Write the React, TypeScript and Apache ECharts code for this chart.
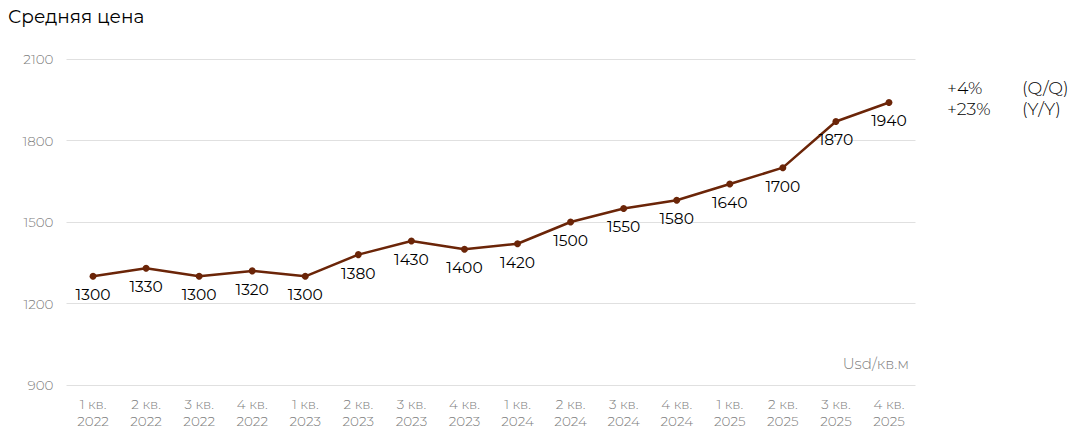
import React, { useEffect, useRef } from "react";
import * as echarts from "echarts";

const categories = [
  "1 кв.\n2022", "2 кв.\n2022", "3 кв.\n2022", "4 кв.\n2022",
  "1 кв.\n2023", "2 кв.\n2023", "3 кв.\n2023", "4 кв.\n2023",
  "1 кв.\n2024", "2 кв.\n2024", "3 кв.\n2024", "4 кв.\n2024",
  "1 кв.\n2025", "2 кв.\n2025", "3 кв.\n2025", "4 кв.\n2025",
];
const prices = [1300, 1330, 1300, 1320, 1300, 1380, 1430, 1400, 1420, 1500, 1550, 1580, 1640, 1700, 1870, 1940];
const title = "Средняя цена";
const unitLabel = "Usd/кв.м";
const changes = ["+4%", "+23%"];
const changeLabels = ["(Q/Q)", "(Y/Y)"];

const FONT = "Montserrat, 'DejaVu Sans', sans-serif";

export default function App() {
  const ref = useRef<HTMLDivElement>(null);
  useEffect(() => {
    if (!ref.current) return;
    const chart = echarts.init(ref.current, undefined, { renderer: "svg" });
    chart.setOption({
      animation: false,
      textStyle: { fontFamily: FONT },
      title: {
        text: title,
        left: 8,
        top: 7,
        padding: 0,
        textStyle: { fontSize: 18.5, fontWeight: "normal", color: "#000", fontFamily: FONT },
      },
      grid: { left: 66.5, right: 157.5, top: 59, bottom: 53 },
      xAxis: {
        type: "category",
        data: categories,
        boundaryGap: true,
        axisLine: { show: false },
        axisTick: { show: false },
        axisLabel: { color: "#808080", fontSize: 13.5, fontWeight: 300, lineHeight: 17, margin: 10, fontFamily: FONT, interval: 0 },
      },
      yAxis: {
        type: "value",
        min: 900,
        max: 2100,
        interval: 300,
        axisLine: { show: false },
        axisTick: { show: false },
        axisLabel: { color: "#808080", fontSize: 13.5, fontWeight: 300, margin: 13, fontFamily: FONT, formatter: (v: number) => String(v) },
        splitLine: { lineStyle: { color: "#e0e0e0", width: 1 } },
      },
      series: [
        {
          type: "line",
          data: prices,
          symbol: "circle",
          symbolSize: 7,
          lineStyle: { color: "#6b2508", width: 2.5 },
          itemStyle: { color: "#6b2508" },
          label: {
            show: true,
            position: "bottom",
            distance: 7,
            color: "#000",
            fontSize: 15.5,
            fontWeight: "normal",
            fontFamily: FONT,
          },
        },
      ],
      graphic: [
        {
          type: "text",
          x: 909,
          y: 363,
          style: { text: unitLabel, fill: "#808080", fontSize: 15, fontWeight: 300, fontFamily: FONT, align: "right", verticalAlign: "middle" },
        },
        ...changes.map((c, i) => ({
          type: "text",
          x: 947,
          y: 87 + i * 21,
          style: { text: c, fill: "#000", fontSize: 17.5, fontWeight: 300, fontFamily: FONT, verticalAlign: "middle" },
        })),
        ...changeLabels.map((c, i) => ({
          type: "text",
          x: 1022,
          y: 87 + i * 21,
          style: { text: c, fill: "#000", fontSize: 17.5, fontWeight: 300, fontFamily: FONT, verticalAlign: "middle" },
        })),
      ],
    });
    return () => chart.dispose();
  }, []);
  return <div ref={ref} style={{ width: 1073, height: 438, position: "absolute", left: 0, top: 0 }} />;
}
